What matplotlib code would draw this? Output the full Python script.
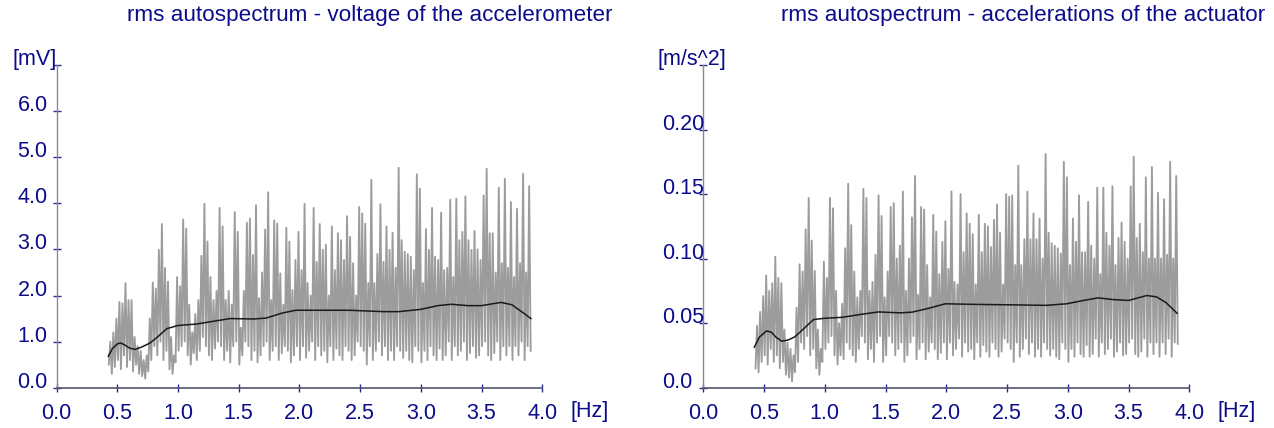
import numpy as np
import matplotlib
matplotlib.use('Agg')
import matplotlib.pyplot as plt

# ---------------- data ----------------
f_start, f_end = 0.43, 3.905

gray_left = [
    0.5,1.0, 0.3,1.2, 0.45,1.5, 0.6,1.86, 0.4,1.83, 0.7,2.27, 0.45,1.9, 0.6,1.9,
    0.35,1.1, 0.5,0.9, 0.3,0.8, 0.25,0.6, 0.2,0.7, 0.35,1.5, 0.6,2.28, 0.9,2.15,
    0.7,2.99, 1.0,3.55, 0.6,2.6, 0.8,2.3, 0.4,1.1, 0.3,0.7, 0.55,2.4, 0.8,2.2,
    0.9,3.65, 1.0,3.45, 0.7,1.8, 0.5,1.2, 0.75,1.6, 0.6,1.9, 0.8,2.86, 1.1,3.99,
    0.9,3.17, 0.7,2.4, 0.6,1.9, 0.85,2.1, 1.0,3.9, 0.9,3.5, 0.6,1.9, 0.8,2.1,
    0.55,1.8, 0.9,3.81, 1.0,3.38, 0.5,1.3, 0.7,2.1, 1.0,3.58, 0.9,3.67, 0.6,2.88,
    0.8,3.96, 0.55,1.94, 0.7,2.5, 0.9,3.43, 1.0,4.24, 0.6,1.9, 0.8,3.63, 0.9,3.56,
    0.6,2.48, 0.75,1.8, 0.9,3.47, 0.8,3.17, 0.55,2.12, 0.7,2.77, 0.9,3.38, 0.6,2.55,
    0.9,3.99, 0.65,2.27, 0.8,2.0, 1.0,3.9, 0.6,2.73, 0.9,3.55, 0.7,2.99, 0.8,3.1,
    0.55,2.0, 0.9,3.5, 0.6,2.55, 0.85,3.35, 0.7,3.2, 0.6,2.77, 0.9,3.72, 0.8,3.27,
    0.6,2.7, 0.7,2.0, 1.0,3.92, 0.9,3.78, 0.8,3.56, 0.5,2.27, 0.9,4.51, 0.6,2.27,
    0.8,2.9, 1.0,3.98, 0.7,2.73, 0.9,3.5, 0.6,2.99, 0.8,3.36, 0.6,2.6, 0.9,4.77,
    0.8,3.2, 0.65,2.95, 0.8,2.9, 0.6,2.84, 0.55,2.55, 0.9,4.63, 0.8,4.32, 0.55,2.27,
    0.8,3.44, 0.6,2.99, 0.9,3.9, 0.7,2.84, 0.6,2.77, 0.85,3.8, 0.6,2.55, 0.7,2.6,
    1.0,4.08, 0.6,2.4, 0.9,4.1, 0.7,3.2, 0.8,3.38, 1.0,4.15, 0.6,3.2, 0.75,2.99,
    0.9,3.4, 0.65,3.0, 0.7,2.77, 0.9,4.17, 1.0,4.75, 0.7,3.35, 0.6,3.35, 0.75,2.5,
    1.0,4.34, 0.6,2.7, 0.9,4.53, 0.7,2.6, 0.9,4.03, 0.6,2.4, 0.9,3.88, 0.7,2.7,
    1.0,4.64, 0.6,2.5, 0.9,4.37, 0.8,
]

gray_right = [
    0.015,0.048, 0.012,0.0587, 0.02,0.071, 0.025,0.087, 0.018,0.075, 0.03,0.081,
    0.02,0.1015, 0.025,0.085, 0.015,0.081, 0.02,0.045, 0.01,0.035, 0.008,0.03,
    0.005,0.025, 0.012,0.062, 0.02,0.0956, 0.035,0.09, 0.03,0.1227, 0.04,0.147,
    0.025,0.114, 0.03,0.0905, 0.015,0.045, 0.01,0.03, 0.02,0.0977, 0.03,0.085,
    0.035,0.147, 0.04,0.139, 0.025,0.075, 0.018,0.05, 0.025,0.065, 0.022,0.108,
    0.035,0.158, 0.03,0.126, 0.025,0.09, 0.02,0.07, 0.03,0.075, 0.04,0.154,
    0.035,0.147, 0.022,0.075, 0.03,0.082, 0.02,0.103, 0.035,0.149, 0.04,0.133,
    0.02,0.07, 0.025,0.09, 0.04,0.14, 0.035,0.143, 0.025,0.1, 0.03,0.11,
    0.035,0.152, 0.02,0.075, 0.025,0.1, 0.035,0.132, 0.04,0.164, 0.022,0.072,
    0.03,0.14, 0.035,0.138, 0.022,0.095, 0.028,0.07, 0.035,0.134, 0.03,0.121,
    0.022,0.088, 0.027,0.113, 0.035,0.129, 0.022,0.092, 0.035,0.152, 0.025,0.082,
    0.03,0.08, 0.038,0.15, 0.024,0.105, 0.035,0.135, 0.028,0.127, 0.03,0.119,
    0.022,0.08, 0.035,0.134, 0.024,0.105, 0.033,0.127, 0.028,0.125, 0.024,0.109,
    0.035,0.13, 0.03,0.142, 0.024,0.12, 0.028,0.08, 0.038,0.15, 0.035,0.148,
    0.03,0.149, 0.02,0.095, 0.035,0.172, 0.024,0.095, 0.03,0.115, 0.038,0.152,
    0.026,0.115, 0.035,0.135, 0.024,0.115, 0.03,0.131, 0.024,0.1, 0.035,0.181,
    0.03,0.12, 0.025,0.112, 0.03,0.11, 0.024,0.108, 0.022,0.104, 0.035,0.175,
    0.03,0.163, 0.02,0.095, 0.03,0.131, 0.024,0.113, 0.035,0.149, 0.026,0.105,
    0.024,0.105, 0.033,0.144, 0.024,0.11, 0.026,0.1, 0.038,0.155, 0.024,0.088,
    0.035,0.155, 0.026,0.12, 0.03,0.11, 0.038,0.156, 0.024,0.095, 0.028,0.116,
    0.035,0.128, 0.025,0.113, 0.026,0.1, 0.035,0.156, 0.038,0.179, 0.026,0.116,
    0.024,0.127, 0.028,0.105, 0.038,0.163, 0.024,0.1, 0.035,0.171, 0.026,0.1,
    0.035,0.151, 0.024,0.1, 0.035,0.146, 0.026,0.103, 0.038,0.175, 0.024,0.1,
    0.035,0.164, 0.034,
]

smooth_left_f = [0.426, 0.46, 0.5, 0.527, 0.56, 0.6, 0.646, 0.7, 0.77, 0.84, 0.907,
                 1.0, 1.15, 1.29, 1.43, 1.62, 1.725, 1.86, 1.97, 2.14, 2.41, 2.69,
                 2.82, 3.0, 3.14, 3.25, 3.39, 3.5, 3.66, 3.75, 3.83, 3.907]
smooth_left_v = [0.68, 0.85, 0.95, 0.97, 0.93, 0.86, 0.83, 0.88, 0.97, 1.12, 1.28,
                 1.35, 1.38, 1.44, 1.50, 1.49, 1.51, 1.62, 1.68, 1.68, 1.68, 1.65,
                 1.65, 1.70, 1.78, 1.81, 1.78, 1.78, 1.85, 1.80, 1.65, 1.50]

smooth_right_f = [0.42, 0.46, 0.52, 0.56, 0.6, 0.646, 0.7, 0.755, 0.83, 0.907, 1.0,
                  1.14, 1.305, 1.44, 1.62, 1.717, 1.855, 1.99, 2.27, 2.54, 2.82,
                  2.99, 3.13, 3.25, 3.37, 3.5, 3.65, 3.73, 3.81, 3.9]
smooth_right_v = [0.0314, 0.039, 0.044, 0.043, 0.039, 0.036, 0.037, 0.0395, 0.046,
                  0.0528, 0.0538, 0.0545, 0.0569, 0.0587, 0.058, 0.0585, 0.0615,
                  0.065, 0.0645, 0.0642, 0.0638, 0.065, 0.0676, 0.0696, 0.0683,
                  0.0676, 0.0714, 0.0704, 0.0658, 0.0576]

x_ticks = [0.0, 0.5, 1.0, 1.5, 2.0, 2.5, 3.0, 3.5, 4.0]
x_ticklabels = ["0.0", "0.5", "1.0", "1.5", "2.0", "2.5", "3.0", "3.5", "4.0"]
left_yticks = [0, 1, 2, 3, 4, 5, 6, 7]
left_yticklabels = ["0.0", "1.0", "2.0", "3.0", "4.0", "5.0", "6.0", "[mV]"]
right_yticks = [0.0, 0.05, 0.10, 0.15, 0.20, 0.25]
right_yticklabels = ["0.0", "0.05", "0.10", "0.15", "0.20", "[m/s^2]"]
titles = ["rms autospectrum - voltage of the accelerometer",
          "rms autospectrum - accelerations of the actuator"]
x_unit = "[Hz]"

# ---------------- style ----------------
plt.rcParams['font.family'] = ['Liberation Sans', 'DejaVu Sans']
TXT = '#0c0c8a'
TICK = '#2a2a96'
FS = 15.5
FS_T = 16.2
W, H = 1274, 428
fig = plt.figure(figsize=(W / 100, H / 100), dpi=100)


def axes_px(x0, x1, ytop, ybot):
    return fig.add_axes([x0 / W, 1 - ybot / H, (x1 - x0) / W, (ybot - ytop) / H])


def setup(ax, ymax, yticks, ylabels, gray, sf, sv, title, title_cx, ylab_off):
    ax.set_xlim(0, 4.0)
    ax.set_ylim(0, ymax)
    fgrid = np.linspace(f_start, f_end, len(gray))
    ax.plot(fgrid, gray, color='#9c9c9c', lw=1.35, zorder=2)
    ax.plot(sf, sv, color='#1a1a1a', lw=1.1, zorder=3)
    for s in ('top', 'right'):
        ax.spines[s].set_visible(False)
    ax.spines['left'].set_color('#8a8a8a')
    ax.spines['bottom'].set_color('#55556e')
    ax.spines['left'].set_linewidth(1.0)
    ax.spines['bottom'].set_linewidth(1.2)
    ax.set_xticks(x_ticks)
    ax.set_xticklabels(x_ticklabels)
    ax.set_yticks(yticks)
    ax.set_yticklabels([])
    ax.tick_params(axis='both', direction='inout', length=6, width=1.0, color=TICK)
    ax.tick_params(axis='x', labelsize=FS, labelcolor=TXT, pad=8)
    tr = ax.get_yaxis_transform()
    width_px = ax.get_position().width * W
    height_px = ax.get_position().height * H
    for yv, lab in zip(yticks, ylabels):
        off = ylab_off - (5 if lab.startswith('[') else 0)
        ax.text(off / width_px, yv, lab, transform=tr, ha='left', va='baseline',
                fontsize=FS, color=TXT, clip_on=False)
    ax.text(4.39, -23.5 / height_px, x_unit, transform=ax.get_xaxis_transform(),
            ha='center', va='center', fontsize=FS, color=TXT, clip_on=False)
    fig.text(title_cx / W, 1 - 15 / H, title, ha='center', va='center',
             fontsize=FS_T, color=TXT)


axL = axes_px(56.6, 542.2, 65.0, 387.7)
setup(axL, 7.0, left_yticks, left_yticklabels, gray_left, smooth_left_f,
      smooth_left_v, titles[0], 370, -39)

axR = axes_px(703.3, 1189.3, 65.0, 387.7)
setup(axR, 0.25, right_yticks, right_yticklabels, gray_right, smooth_right_f,
      smooth_right_v, titles[1], 1023, -41)

fig.savefig('out.png', dpi=100, facecolor='white')
